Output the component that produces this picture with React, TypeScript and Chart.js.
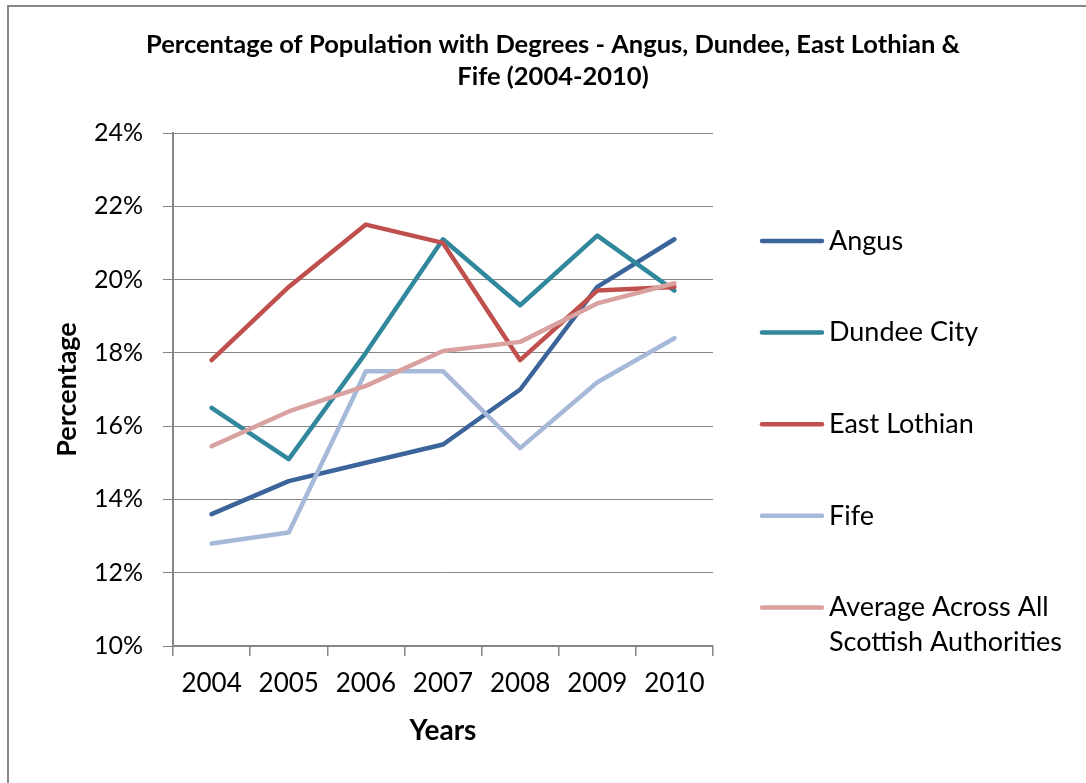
import React, { useEffect, useRef } from "react";
import { Chart, registerables } from "chart.js";

Chart.register(...registerables);

const years = ["2004", "2005", "2006", "2007", "2008", "2009", "2010"];
const angus = [13.6, 14.5, 15.0, 15.5, 17.0, 19.8, 21.1];
const dundeeCity = [16.5, 15.1, 18.0, 21.1, 19.3, 21.2, 19.7];
const eastLothian = [17.8, 19.8, 21.5, 21.0, 17.8, 19.7, 19.8];
const fife = [12.8, 13.1, 17.5, 17.5, 15.4, 17.2, 18.4];
const scottishAverage = [15.45, 16.4, 17.1, 18.05, 18.3, 19.35, 19.9];

const seriesNames = [
  "Angus",
  "Dundee City",
  "East Lothian",
  "Fife",
  "Average Across All Scottish Authorities",
];
const seriesColors = ["#3B649A", "#31889D", "#C0504D", "#A6B9D8", "#D9A1A0"];

const yMin = 10;
const yMax = 24;
const yStep = 2;

const titleLines = [
  "Percentage of Population with Degrees - Angus, Dundee, East Lothian &",
  "Fife (2004-2010)",
];
const xAxisTitle = "Years";
const yAxisTitle = "Percentage";

const FONT = 'Lato, "Open Sans", "DejaVu Sans", sans-serif';
const GRID = "#868686";

const framePlugin = {
  id: "frame",
  beforeDraw(chart: any) {
    const { ctx, width, height } = chart;
    ctx.save();
    ctx.fillStyle = "#ffffff";
    ctx.fillRect(0, 0, width, height);
    ctx.strokeStyle = "#878787";
    ctx.lineWidth = 2;
    ctx.beginPath();
    ctx.moveTo(8, height);
    ctx.lineTo(8, 6);
    ctx.lineTo(width, 6);
    ctx.stroke();
    ctx.restore();
  },
};

const titlePlugin = {
  id: "customTitle",
  afterDraw(chart: any) {
    const { ctx } = chart;
    ctx.save();
    ctx.fillStyle = "#000000";
    ctx.font = `bold 25.5px ${FONT}`;
    ctx.textAlign = "center";
    ctx.textBaseline = "middle";
    titleLines.forEach((line, i) => {
      ctx.fillText(line, 553, 45 + i * 32);
    });
    ctx.restore();
  },
};

const legendPlugin = {
  id: "customLegend",
  afterDraw(chart: any) {
    const { ctx } = chart;
    ctx.save();
    ctx.font = `27px ${FONT}`;
    ctx.textAlign = "left";
    ctx.textBaseline = "middle";
    const maxW = 252;
    chart.data.datasets.forEach((ds: any, i: number) => {
      const y = 241 + i * 91.6;
      ctx.strokeStyle = ds.borderColor;
      ctx.lineWidth = 4.5;
      ctx.lineCap = "round";
      ctx.beginPath();
      ctx.moveTo(762, y);
      ctx.lineTo(822, y);
      ctx.stroke();
      ctx.fillStyle = "#000000";
      const words = String(ds.label).split(" ");
      const lines: string[] = [];
      let cur = "";
      words.forEach((w) => {
        const test = cur ? cur + " " + w : w;
        if (ctx.measureText(test).width > maxW && cur) {
          lines.push(cur);
          cur = w;
        } else {
          cur = test;
        }
      });
      if (cur) lines.push(cur);
      lines.forEach((l, j) => ctx.fillText(l, 829, y + j * 34.5));
    });
    ctx.restore();
  },
};

export default function App() {
  const canvasRef = useRef<HTMLCanvasElement | null>(null);

  useEffect(() => {
    if (!canvasRef.current) return;
    const seriesData = [angus, dundeeCity, eastLothian, fife, scottishAverage];
    const chart = new Chart(canvasRef.current, {
      type: "line",
      data: {
        labels: years,
        datasets: seriesData.map((d, i) => ({
          label: seriesNames[i],
          data: d,
          borderColor: seriesColors[i],
          backgroundColor: seriesColors[i],
          borderWidth: 4.5,
          pointRadius: 0,
          pointHoverRadius: 0,
          tension: 0,
          borderCapStyle: "round",
          borderJoinStyle: "round",
          order: seriesData.length - i,
        })),
      },
      options: {
        responsive: false,
        animation: false,
        layout: { padding: { left: 50, right: 373, top: 133, bottom: 0 } },
        plugins: {
          legend: { display: false },
          title: { display: false },
          tooltip: { enabled: false },
        },
        scales: {
          x: {
            offset: true,
            grid: {
              offset: true,
              drawOnChartArea: false,
              drawTicks: true,
              tickLength: 10,
              color: GRID,
              lineWidth: 1.5,
            },
            border: { color: GRID, width: 1.5 },
            ticks: {
              color: "#000000",
              font: { family: FONT, size: 26 },
              padding: 12,
              maxRotation: 0,
            },
            title: {
              display: true,
              text: xAxisTitle,
              color: "#000000",
              font: { family: FONT, size: 28, weight: "bold" },
              padding: { top: 4, bottom: 35 },
            },
            afterFit(scale: any) {
              scale.height = 137;
            },
          },
          y: {
            min: yMin,
            max: yMax,
            grid: {
              color: GRID,
              lineWidth: 1,
              drawTicks: true,
              tickLength: 10,
            },
            border: { color: GRID, width: 2 },
            ticks: {
              stepSize: yStep,
              color: "#000000",
              font: { family: FONT, size: 25 },
              padding: 20,
              callback: (v: any) => `${v}%`,
            },
            title: {
              display: true,
              text: yAxisTitle,
              color: "#000000",
              font: { family: FONT, size: 27, weight: "bold" },
              padding: { top: 1, bottom: 0 },
            },
            afterFit(scale: any) {
              scale.width = 123;
            },
          },
        },
      },
      plugins: [framePlugin, titlePlugin, legendPlugin],
    } as any);
    return () => chart.destroy();
  }, []);

  return (
    <div style={{ position: "absolute", left: 0, top: 0, width: 1086, height: 783, background: "#fff" }}>
      <canvas ref={canvasRef} width={1086} height={783} />
    </div>
  );
}
